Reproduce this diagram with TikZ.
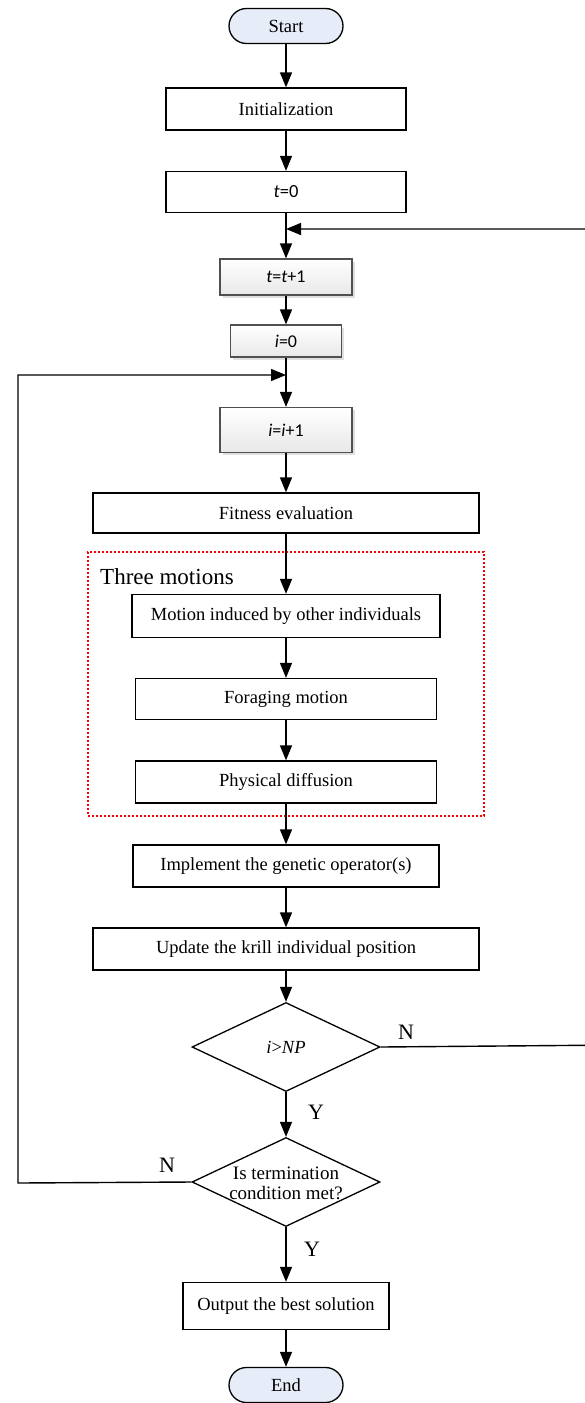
\documentclass[tikz,border=0pt]{standalone}
\usepackage{fontspec}
\setmainfont{Liberation Serif}
\newfontfamily\calfont{Carlito}
\usetikzlibrary{shapes.geometric,shapes.misc,arrows.meta,shadows}
\begin{document}
\begin{tikzpicture}[x=1pt,y=-1pt,
  every node/.style={font=\fontsize{18.5}{21}\selectfont},
  box/.style={draw, line width=1.3pt, inner sep=0pt, rectangle},
  term/.style={draw, line width=1.3pt, rounded rectangle, fill={rgb,255:red,230;green,237;blue,248}, minimum width=114pt, minimum height=35pt, inner sep=0pt},
  shbox/.style={draw={rgb,255:red,80;green,80;blue,80}, line width=1.2pt, inner sep=0pt, top color=white, bottom color=gray!18, drop shadow={shadow xshift=2.5pt, shadow yshift=-2.5pt, opacity=0.25}, font=\fontsize{18}{21}\calfont},
  dia/.style={draw, line width=1.3pt, diamond, inner sep=0pt, minimum width=188pt, minimum height=89pt},
  arr/.style={line width=1.4pt, -{Triangle[length=15pt,width=12pt]}},
  lab/.style={font=\fontsize{22}{24}\selectfont, inner sep=0pt}
]
\useasboundingbox (0,0) rectangle (584,1403);
\node[term] (start) at (286,26) {Start};
\node[box, minimum width=240pt, minimum height=42pt] (init) at (286,109) {Initialization};
\node[box, minimum width=240pt, minimum height=41pt] (t0) at (286,192) {\calfont\itshape t\upshape=0};
\node[shbox, minimum width=132pt, minimum height=36pt] (tt1) at (286,277) {\itshape t\upshape=\itshape t\upshape+1};
\node[shbox, minimum width=111pt, minimum height=32pt] (i0) at (286,341) {\itshape i\upshape=0};
\node[shbox, minimum width=132pt, minimum height=45pt] (ii1) at (286,430) {\itshape i\upshape=\itshape i\upshape+1};
\node[box, minimum width=386pt, minimum height=40pt] (fit) at (286,513) {Fitness evaluation};
\node[draw=red, line width=1.1pt, dash pattern=on 2pt off 2pt, minimum width=396pt, minimum height=264pt, inner sep=0pt] (three) at (286,684) {};
\node[anchor=west, font=\fontsize{23}{25}\selectfont, inner sep=0pt] (threelab) at (100,577) {Three motions};
\node[box, minimum width=308pt, minimum height=43pt] (m1) at (286,616) {Motion induced by other individuals};
\node[box, minimum width=301pt, minimum height=41pt] (m2) at (286,699) {Foraging motion};
\node[box, minimum width=301pt, minimum height=42pt] (m3) at (286,782) {Physical diffusion};
\node[box, minimum width=306pt, minimum height=42pt] (impl) at (286,866) {Implement the genetic operator(s)};
\node[box, minimum width=386pt, minimum height=42pt] (upd) at (286,949) {Update the krill individual position};
\node[dia] (dnp) at (286,1047) {};
\node[inner sep=0pt] (dnptxt) at (286,1047) {\itshape i\upshape>\itshape NP};
\node[dia] (dterm) at (286,1182) {};
\node[inner sep=0pt, align=center, font=\fontsize{19}{20}\selectfont] (dtermtxt) at (286,1183) {Is termination\\condition met?};
\node[box, minimum width=206pt, minimum height=47pt] (out) at (286,1306) {Output the best solution};
\node[term] (end) at (286,1385) {End};
\coordinate (jt) at (286,229);
\coordinate (ji) at (286,375);
\coordinate (rt) at (620,1045);
\coordinate (lf) at (18,1183);
% main flow
\draw[arr] (start.south) -- (init.north);
\draw[arr] (init) -- (t0);
\draw[arr] (t0) -- (tt1);
\draw[arr] (tt1) -- (i0);
\draw[arr] (i0) -- (ii1);
\draw[arr] (ii1) -- (fit);
\draw[arr] (fit) -- (m1);
\draw[arr] (m1) -- (m2);
\draw[arr] (m2) -- (m3);
\draw[arr] (m3) -- (impl);
\draw[arr] (impl) -- (upd);
\draw[arr] (upd) -- (dnp);
\draw[arr] (dnp) -- (dterm);
\draw[arr] (dterm) -- (out);
\draw[arr] (out) -- (end);
% loops
\draw[arr] (dnp.east) -- (rt) |- (jt);
\draw[arr] (dterm.west) -- (lf) |- (ji);
% labels
\node[lab] (n1) at (406,1032) {N};
\node[lab] (y1) at (316,1112) {Y};
\node[lab] (n2) at (167,1165) {N};
\node[lab] (y2) at (312,1249) {Y};
\end{tikzpicture}
\end{document}
